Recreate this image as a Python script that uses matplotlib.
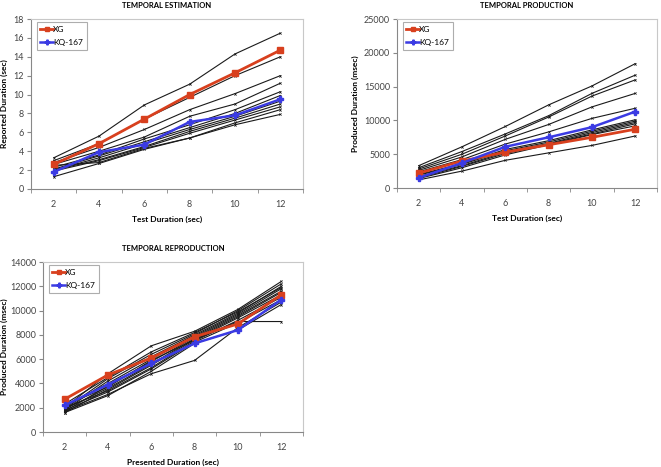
import numpy as np
import matplotlib.pyplot as plt

plt.rcParams['font.family'] = ['Lato', 'DejaVu Sans']

durations = ['2', '4', '6', '8', '10', '12']

# temporal estimation (sec)
est_xg = [2.6, 4.8, 7.4, 10.0, 12.3, 14.7]
est_kq = [1.8, 3.9, 4.7, 7.1, 7.8, 9.5]
est_others = [
    [3.3, 5.6, 8.9, 11.1, 14.3, 16.5],
    [3.0, 4.8, 7.4, 9.7, 12.0, 14.0],
    [2.8, 4.4, 6.3, 8.4, 10.1, 12.0],
    [2.6, 4.0, 5.5, 7.7, 9.0, 11.2],
    [2.3, 3.6, 5.3, 6.8, 8.4, 10.3],
    [2.1, 3.5, 5.0, 6.5, 8.0, 9.9],
    [2.0, 3.3, 4.8, 6.3, 7.7, 9.3],
    [2.0, 3.1, 4.5, 6.1, 7.5, 9.0],
    [1.9, 3.0, 4.4, 5.9, 7.3, 8.7],
    [2.5, 2.8, 4.3, 5.4, 7.0, 8.4],
    [1.3, 2.7, 4.2, 5.4, 6.8, 7.9],
]

# temporal production (msec)
prod_xg = [2200, 4000, 5300, 6400, 7500, 8700]
prod_kq = [1500, 3700, 6100, 7500, 9000, 11300]
prod_others = [
    [3300, 6100, 9100, 12300, 15100, 18400],
    [3000, 5400, 8000, 10700, 14000, 16700],
    [2800, 5000, 7700, 10500, 13600, 16000],
    [2600, 4600, 7200, 9400, 12000, 14000],
    [2400, 4200, 6500, 8300, 10300, 11800],
    [2000, 3600, 5700, 7000, 8600, 10100],
    [1900, 3500, 5500, 6800, 8400, 9900],
    [1700, 3300, 5300, 6600, 8200, 9700],
    [1500, 3200, 5100, 6500, 8000, 9500],
    [1400, 3000, 4900, 6400, 7900, 9200],
    [1200, 2500, 4100, 5200, 6300, 7700],
]

# temporal reproduction (msec)
rep_xg = [2700, 4700, 6100, 7850, 8900, 11300]
rep_kq = [2200, 3900, 5650, 7300, 8400, 10900]
rep_others = [
    [2000, 4800, 7100, 8300, 10100, 12400],
    [1900, 4400, 6400, 8100, 10000, 12200],
    [1800, 4200, 6200, 8000, 9800, 12000],
    [2100, 4000, 6000, 7900, 9700, 11800],
    [1700, 3800, 5800, 7800, 9600, 11600],
    [1900, 3600, 5600, 7700, 9500, 11500],
    [1600, 3500, 5500, 7600, 9400, 11300],
    [2000, 3400, 5300, 7500, 9200, 11100],
    [1800, 3300, 5200, 7400, 9000, 10900],
    [2200, 3700, 5900, 7600, 9100, 9100],
    [1700, 3100, 4800, 5900, 8600, 10700],
    [1600, 3000, 5000, 7300, 8400, 10500],
    [2300, 4500, 6600, 8200, 9900, 11900],
]

red = '#d8401e'
blue = '#3b3be3'


def draw(ax, xg, kq, others, title, xlabel, ylabel, ymax, ystep, ylab_x):
    x = np.arange(len(durations))
    for row in others:
        ax.plot(x, row, color='#1a1a1a', linewidth=0.8, marker='x', markersize=1.6, markeredgewidth=0.5)
    ax.plot(x, xg, color=red, linewidth=2.0, marker='s', markersize=4, label='XG', zorder=5)
    ax.plot(x, kq, color=blue, linewidth=1.8, marker='P', markersize=4, label='KQ-167', zorder=6)
    ax.set_xlim(-0.5, len(durations) - 0.5)
    ax.set_ylim(0, ymax)
    ax.set_yticks(np.arange(0, ymax + 1, ystep))
    ax.set_xticks(x)
    ax.set_xticklabels(durations)
    ax.set_xticks(np.arange(-0.5, len(durations), 1), minor=True)
    ax.tick_params(axis='x', which='major', length=0, labelsize=6.5, colors='#444444', pad=8)
    ax.tick_params(axis='x', which='minor', length=3, color='#888888')
    ax.tick_params(axis='y', length=3, labelsize=6.5, colors='#444444', color='#888888', pad=2)
    for s in ['left', 'bottom']:
        ax.spines[s].set_color('#888888')
    for s in ['top', 'right']:
        ax.spines[s].set_color('#c8c8c8')
    ax.set_title(title, fontsize=5.5, fontweight='bold', pad=8)
    ax.set_xlabel(xlabel, fontsize=6, fontweight='bold', labelpad=5)
    ax.set_ylabel(ylabel, fontsize=6, fontweight='bold')
    ax.yaxis.set_label_coords(ylab_x, 0.5)
    leg = ax.legend(loc='upper left', fontsize=6, fancybox=False, handlelength=1.5,
                    handletextpad=0.05, borderpad=0.45, labelspacing=0.75,
                    markerscale=0.85, bbox_to_anchor=(0.015, 0.99), borderaxespad=0.2)
    leg.get_frame().set_edgecolor('#999999')
    leg.get_frame().set_linewidth(0.8)


fig = plt.figure(figsize=(6.61, 4.67), dpi=100)

ax1 = fig.add_axes([0.0469, 0.5953, 0.4115, 0.364])
draw(ax1, est_xg, est_kq, est_others, 'TEMPORAL ESTIMATION', 'Test Duration (sec)',
     'Reported Duration (sec)', 18, 2, -0.085)

ax2 = fig.add_axes([0.6006, 0.5974, 0.3933, 0.3619])
draw(ax2, prod_xg, prod_kq, prod_others, 'TEMPORAL PRODUCTION', 'Test Duration (sec)',
     'Produced Duration (msec)', 25000, 5000, -0.146)

ax3 = fig.add_axes([0.065, 0.0749, 0.3933, 0.364])
draw(ax3, rep_xg, rep_kq, rep_others, 'TEMPORAL REPRODUCTION', 'Presented Duration (sec)',
     'Produced Duration (msec)', 14000, 2000, -0.135)

plt.savefig('out.png', dpi=100)
